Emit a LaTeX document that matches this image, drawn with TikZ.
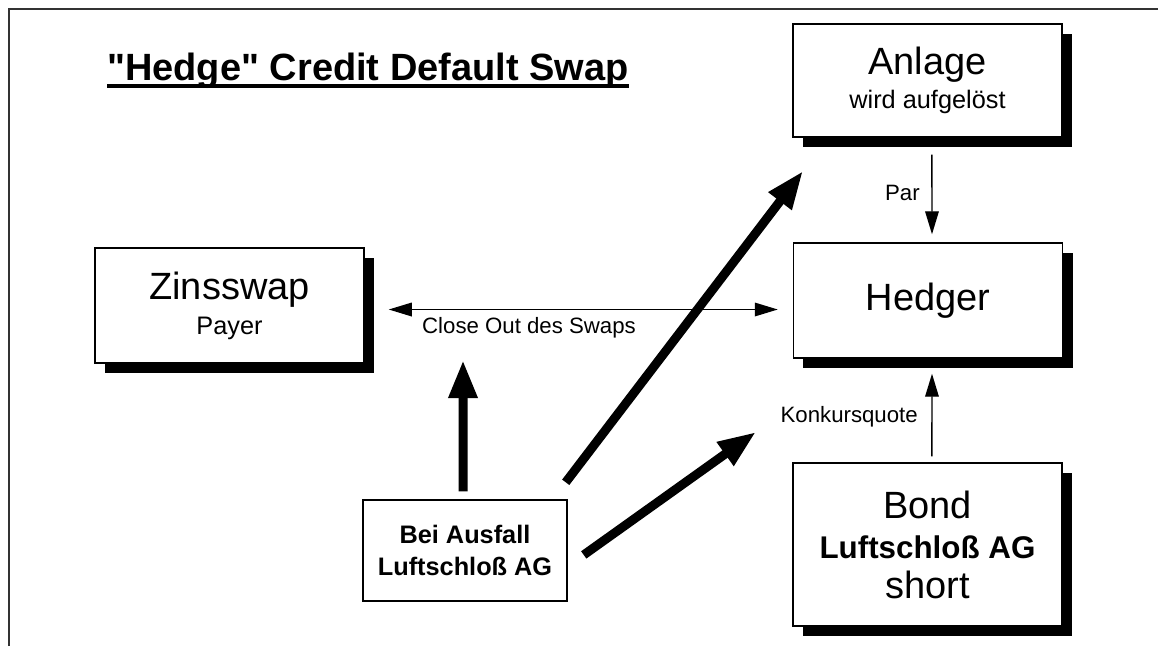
\documentclass[tikz,border=0pt]{standalone}
\usepackage{fontspec}
\setmainfont{Liberation Sans}[Ligatures=TeXOff]
\usetikzlibrary{arrows.meta,shadows}
\begin{document}
\begin{tikzpicture}[x=0.025cm,y=-0.025cm,
  >={Triangle[length=0.575cm,width=0.34cm]},
  box/.style={draw,line width=1pt,fill=white,align=center,inner sep=0pt,
    minimum width=6.725cm,
    drop shadow={shadow xshift=0.25cm,shadow yshift=-0.25cm,opacity=1,fill=black}},
  flow/.style={line width=1pt},
  bigarrow/.style={line width=0.225cm,-{Triangle[length=0.95cm,width=0.675cm]}},
  lbl/.style={font=\fontsize{15.8}{18}\selectfont,inner sep=0pt}]
\useasboundingbox (0,0) rectangle (1158,646);
\draw[line width=1.2pt,black!80] (9,646) -- (9,9) -- (1158,9);
\node[font=\bfseries\fontsize{27}{30}\selectfont,inner sep=0pt,anchor=base west] (title) at (107,80) {"Hedge" Credit Default Swap};
\draw[line width=0.1cm] ([yshift=-0.14cm]title.base west) -- ([yshift=-0.14cm]title.base east);
\node[box,minimum height=2.825cm,font=\fontsize{27}{24.2}\selectfont] (anlage) at (927.5,80.5) {Anlage\\\fontsize{18}{24.2}\selectfont wird aufgelöst};
\node[box,minimum height=2.875cm,font=\fontsize{27}{30}\selectfont] (hedger) at (928,300.5) {Hedger};
\node[box,minimum height=2.875cm,font=\fontsize{27}{24.9}\selectfont] (zins) at (229.5,305.5) {Zinsswap\\\fontsize{18}{24.9}\selectfont Payer};
\node[box,minimum height=4.075cm,font=\fontsize{27}{28.4}\selectfont] (bond) at (927.5,544.5) {Bond\\\bfseries\fontsize{22.3}{28.4}\selectfont Luftschloß AG\\\mdseries\fontsize{27}{31.3}\selectfont short};
\node[draw,line width=1pt,align=center,minimum width=5.1cm,minimum height=2.525cm,font=\bfseries\fontsize{18}{22.8}\selectfont] (bei) at (465,550.5) {Bei Ausfall\\Luftschloß AG};
\coordinate (tipv) at (463,360);
\coordinate (tipa) at (803,171);
\coordinate (tiph) at (756,432);
\draw[bigarrow] ([xshift=-0.05cm,yshift=0.2cm]bei.north) -- (tipv);
\draw[bigarrow] ([xshift=-0.05cm,yshift=0.425cm]bei.north east) -- (tipa);
\draw[bigarrow] ([xshift=0.4cm,yshift=-0.11cm]bei.east) -- (tiph);
\draw[flow,<->] ([xshift=0.6cm,yshift=-0.1cm]zins.east) -- ([xshift=-0.375cm,yshift=-0.1cm]zins.east -| hedger.west);
\node[lbl] (closeout) at (529,328) {Close Out des Swaps};
\draw[flow,->] ([xshift=0.11cm,yshift=-0.425cm]anlage.south) -- ([xshift=0.1cm,yshift=0.2cm]hedger.north);
\node[lbl,anchor=east] (par) at (920,193) {Par};
\draw[flow,->] ([xshift=0.11cm,yshift=0.15cm]bond.north) -- ([xshift=0.1cm,yshift=-0.375cm]hedger.south);
\node[lbl,anchor=east] (konkurs) at (918,417) {Konkursquote};
\end{tikzpicture}
\end{document}
